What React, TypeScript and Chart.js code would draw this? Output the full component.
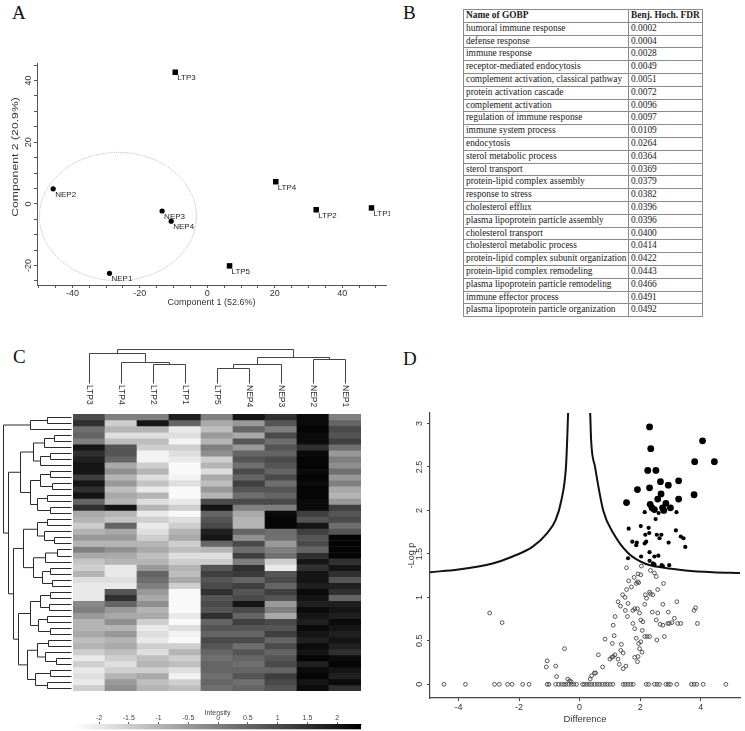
import React, { useEffect, useRef } from "react";
import { Chart, registerables } from "chart.js";

Chart.register(...registerables);
Chart.defaults.font.family = '"Liberation Sans", Arial, sans-serif';

// ---------------- Panel A : PCA ----------------
const ltpLabels = ["LTP1", "LTP2", "LTP3", "LTP4", "LTP5"];
const ltpComp1 = [48.7, 32.3, -9.5, 20.3, 6.6];
const ltpComp2 = [-1.3, -1.9, 42.7, 7.2, -20.1];
const nepLabels = ["NEP1", "NEP2", "NEP3", "NEP4"];
const nepComp1 = [-29.0, -45.7, -13.4, -10.7];
const nepComp2 = [-22.5, 4.9, -2.3, -5.6];
const ellipseCenter = [-26.5, -4.1];
const ellipseRadius = [23.3, 20.8];
const pcaXTicks = [-40, -20, 0, 20, 40];
const pcaYTicks = [-20, 0, 20, 40];
const pcaXMinor = [-50, -45, -40, -35, -30, -25, -20, -15, -10, -5, 0, 5, 10, 15, 20, 25, 30, 35, 40, 45, 50];
const pcaYMinor = [-25, -20, -15, -10, -5, 0, 5, 10, 15, 20, 25, 30, 35, 40, 45];

// ---------------- Panel B : GOBP table ----------------
const gobpNames = [
  "humoral immune response",
  "defense response",
  "immune response",
  "receptor-mediated endocytosis",
  "complement activation, classical pathway",
  "protein activation cascade",
  "complement activation",
  "regulation of immune response",
  "immune system process",
  "endocytosis",
  "sterol metabolic process",
  "sterol transport",
  "protein-lipid complex assembly",
  "response to stress",
  "cholesterol efflux",
  "plasma lipoprotein particle assembly",
  "cholesterol transport",
  "cholesterol metabolic process",
  "protein-lipid complex subunit organization",
  "protein-lipid complex remodeling",
  "plasma lipoprotein particle remodeling",
  "immune effector process",
  "plasma lipoprotein particle organization",
];
const gobpFdr = [
  "0.0002", "0.0004", "0.0028", "0.0049", "0.0051", "0.0072", "0.0096", "0.0097",
  "0.0109", "0.0264", "0.0364", "0.0369", "0.0379", "0.0382", "0.0396", "0.0396",
  "0.0400", "0.0414", "0.0422", "0.0443", "0.0466", "0.0491", "0.0492",
];

// ---------------- Panel C : heatmap ----------------
const heatColumns = ["LTP3", "LTP4", "LTP2", "LTP1", "LTP5", "NEP4", "NEP3", "NEP2", "NEP1"];
const ltp3Values = [1, 1.5, 0.3, 0.5, 0, 2, 1.5, 1.8, 2, 2, 1.2, 2, 1.5, 2, 0.5, 1.5, -0.8, -1, -1.5, -1, -0.5, -1, 0, -0.8, -1.3, -1.5, -1, -1.8, -2, -2, -2, -0.2, 0, -0.5, -1, -1, -0.8, -1.2, -1, -1.5, -2, -1.5, -2, -1.8, -2, -1.5];
const ltp4Values = [0, -1.5, -1, -1.8, -1.2, 0.8, 0.8, 0.5, -0.8, -0.3, -1, -0.5, -1.2, -0.8, -1, 2, -1, -1.3, 0.5, -0.8, -0.5, -1, -0.3, -0.8, -1, -2, -2, -1.8, -2, 0.8, 1.5, 0.5, -0.5, -0.8, -0.3, -1, -0.5, -1, -0.8, -1.2, -1.5, -1.8, -1.5, -1, -0.5, -0.3];
const ltp2Values = [0, 2, -1, -1.8, -1.2, -1.5, -2.2, -2.2, -1.5, -1, -1.8, -1.3, -2, -1, -1.8, -1, -2, -1.5, -2, -1.8, -1.5, -1, -0.8, -1.2, -1, -0.5, 0.5, 0.3, 0, -0.5, -0.8, -0.3, -1, -0.8, -1.5, -2, -1.8, -2, -1.5, -1.8, -1.2, -1, -1.5, -0.8, -1.2, -1];
const ltp1Values = [1.8, 0.5, -2, -1.8, -2.2, -1.5, -1.8, -2, -2.3, -2.3, -2.2, -1.8, -2.3, -2.3, -2, -1.5, -2.3, -1.8, -1.5, -1, -0.8, -1.5, -1.2, -1.8, -1.5, -1, -1.2, -0.8, -1.5, -2.3, -2.3, -2.3, -2.3, -2, -2.3, -1.8, -2.2, -2.3, -1.5, -1, -1.5, -1.2, -1.8, -2.2, -1.5, -1.2];
const ltp5Values = [0, -0.8, -1.2, -0.5, -1, 0, -0.3, -1.5, -1, -1.8, -0.8, -1.2, -0.5, -1, 1, 2, 0.5, 0.8, 1, 1.8, 2, 0.5, -1, -1.8, -1.5, 0.8, 1.2, 0.8, 1, 1.5, 0.8, 1, 0.8, 1.5, 0.5, 0.8, 0.5, 1, 0.8, 0.5, 0.3, 0.5, 0.5, 0.3, 0.5, 0.3];
const nep4Values = [2, -0.5, 0.5, -0.8, 0.8, -0.5, 0.5, 0.8, 0.3, 1, 0.5, 1.2, 0.8, 0.3, 1, 0, -0.8, -1, -1, 0.5, -0.3, 1, 0.3, 1.2, 0, 1.5, 1.3, 0.5, 1.2, 0.8, 1, 2, 1, 0.5, 1.2, 0.8, 0.5, 1, 0.3, 0.8, 0.5, 0.3, 0.5, 0.8, 0.3, 0.5];
const nep3Values = [1.5, 0.8, 0, 1, 0.3, 0.8, 0.5, 1, 0.8, 0.5, 1, 0.3, 0.8, 0.5, 1, 0, 2.2, 2.3, 2.3, 0.3, 0.3, -0.5, 0, 0.3, -1.5, -2, 0.8, 1, 0.5, 1.2, 0.8, -0.5, 0, -0.8, 1, 0.8, 1.2, 0.5, 1, 0.5, 0.8, 1, 0.5, 1.2, 1, 0.8];
const nep2Values = [2.2, 2.2, 2.3, 2.2, 2.2, 1.5, 2.2, 2.3, 2.3, 2.2, 2.3, 2.2, 2.3, 2.3, 2.2, 2.2, 1.2, 0.8, 2, 1.2, 0.8, 1, 0.5, 1.5, 2, 1.5, 2, 2, 1.8, 2.2, 2, 1.8, 2.2, 2, 1.8, 2.2, 2, 1.8, 2.2, 2, 2.3, 1.8, 2.2, 2.3, 2, 2.2];
const nep1Values = [0, 0.5, 1, 0.8, 1.2, 0.3, -0.5, 0, -0.3, 0.3, -0.5, 0, -0.8, -1, -0.5, 1.2, 0.8, 1, 0.3, 0.8, 2.3, 2.3, 2.3, 2.3, 1.5, 2, 1.5, 0.8, 1.8, 1.5, 0.5, 1.8, 2, 1.8, 2.2, 2, 1.8, 2, 1.8, 1.5, 2.2, 2.3, 2, 1.8, 2.2, 1.5];
const intensityMin = -2.42;
const intensityMax = 2.4;
const intensityTicks = [-2, -1.5, -1, -0.5, 0, 0.5, 1, 1.5, 2];
// dendrograms: [height, left, right], leaves are indices
const colTree: any = [1.0, [0.88, 0, [0.62, 1, [0.56, 2, 3]]], [0.76, [0.56, [0.46, 4, 5], 6], [0.71, 7, 8]]];
const rowTree: any = [1.0,
  [0.6, [0.35, 0, 1], 2],
  [0.92,
    [0.75,
      [0.55, [0.4, [0.25, 3, 4], 5], [0.45, [0.3, 6, 7], 8]],
      [0.6, [0.45, [0.3, 9, 10], [0.28, 11, 12]], [0.5, [0.35, 13, 14], [0.3, 15, 16]]]],
    [0.85,
      [0.7, [0.5, [0.35, 17, 18], [0.4, 19, [0.25, 20, 21]]], [0.55, [0.38, [0.2, 22, 23], 24], [0.42, [0.3, 25, 26], [0.28, 27, 28]]]],
      [0.78,
        [0.6, [0.45, [0.3, 29, 30], [0.32, 31, 32]], [0.48, [0.35, 33, 34], [0.3, 35, 36]]],
        [0.65, [0.5, [0.33, 37, 38], [0.38, 39, [0.22, 40, 41]]], [0.52, [0.3, 42, 43], [0.35, 44, 45]]]]]]];

// ---------------- Panel D : volcano ----------------
const bigX = [2.31, 2.35, 4.06, 3.80, 4.45, 2.25, 2.52, 2.67, 2.93, 3.27, 1.91, 2.31, 2.69, 3.27, 3.78, 1.55, 2.58, 2.33, 2.39, 2.47, 2.85, 2.74, 2.78, 3.00];
const bigY = [2.96, 2.71, 2.80, 2.56, 2.56, 2.46, 2.46, 2.33, 2.29, 2.34, 2.24, 2.26, 2.19, 2.13, 2.18, 2.09, 2.13, 2.07, 2.03, 2.01, 2.08, 2.03, 2.00, 2.03];
const smallX = [2.15, 2.61, 3.20, 2.51, 1.62, 2.02, 2.28, 3.18, 2.17, 2.30, 2.55, 2.70, 2.64, 3.34, 3.43, 1.74, 1.89, 2.15, 2.20, 2.94, 3.49, 1.87, 2.03, 2.31, 2.47, 2.60, 1.60, 2.31, 2.42, 2.47, 2.71, 2.96, 2.75];
const smallY = [1.98, 1.97, 1.98, 1.90, 1.79, 1.82, 1.80, 1.77, 1.72, 1.74, 1.72, 1.72, 1.68, 1.70, 1.68, 1.64, 1.63, 1.62, 1.64, 1.63, 1.58, 1.60, 1.47, 1.52, 1.47, 1.48, 1.45, 1.42, 1.39, 1.38, 1.37, 1.37, 1.36];
const openX = [-2.97, -2.56, -0.50, -1.07, -1.10, -0.79, -0.76, -0.39, -0.33, -0.28,
  0.35, 0.40, 0.49, 0.53, 0.62, 0.76, 0.84, 1.00, 1.06, 1.11,
  1.17, 1.27, 1.31, 1.08, 1.14, 1.11, 1.17, 1.38, 1.36, 1.44,
  1.44, 1.53, 1.27, 1.35, 1.42, 1.50, 1.51, 1.60, 1.58, 1.55,
  1.55, 1.62, 1.71, 1.76, 1.82, 1.91, 1.98, 2.02, 1.80, 1.87,
  1.91, 1.95, 1.93, 2.02, 2.04, 1.76, 1.82, 1.87, 1.95, 2.02,
  1.98, 1.93, 1.82, 1.91, 2.09, 2.07, 2.15, 2.23, 2.31, 2.06,
  2.15, 2.17, 2.21, 2.31, 2.34, 2.47, 2.53, 2.58, 2.40, 2.53,
  2.58, 2.34, 2.42, 2.55, 2.66, 2.75, 2.80, 2.75, 2.77, 2.91,
  2.93, 2.96, 3.05, 3.21, 3.13, 3.24, 3.34, 3.78, 3.83, 3.89];
const openY = [0.82, 0.71, 0.41, 0.27, 0.20, 0.21, 0.09, 0.06, 0.04, 0.03,
  0.06, 0.10, 0.13, 0.13, 0.34, 0.20, 0.52, 0.29, 0.31, 0.32,
  0.34, 0.29, 0.23, 0.47, 0.56, 0.68, 0.78, 0.46, 0.39, 0.36,
  0.18, 0.21, 0.95, 0.90, 1.03, 1.00, 0.85, 0.93, 0.78, 1.09,
  1.34, 1.19, 1.12, 0.85, 0.87, 0.87, 0.82, 0.74, 1.23, 1.16,
  1.18, 1.17, 1.27, 1.26, 1.36, 0.70, 0.64, 0.53, 0.47, 0.49,
  0.41, 0.32, 0.31, 0.26, 0.72, 0.62, 0.55, 0.55, 0.55, 0.37,
  0.92, 1.03, 0.99, 1.06, 1.31, 1.28, 1.24, 1.09, 0.83, 0.74,
  0.82, 1.04, 1.03, 0.51, 0.69, 0.68, 0.55, 0.92, 1.16, 0.70,
  0.83, 0.70, 0.71, 0.95, 0.76, 0.70, 0.70, 0.85, 0.88, 0.70];
const openZeroX = [-4.48, -3.77, -2.81, -2.65, -2.38, -2.23, -1.88, -1.67, -1.07, -1.01,
  -0.79, -0.69, -0.60, -0.52, -0.45, -0.36, -0.27, -0.19, -0.10, 0.10,
  0.16, 0.24, 0.32, 0.40, 0.49, 0.58, 0.66, 0.75, 0.84, 0.92,
  1.01, 1.10, 1.44, 1.51, 1.60, 1.69, 1.77, 2.20, 2.28, 2.47,
  2.56, 2.64, 2.85, 2.93, 3.00, 3.21, 3.69, 3.78, 3.87, 4.08, 4.83];
const curveLeftX = [-4.94, -4.0, -2.87, -2.21, -1.56, -1.07, -0.79, -0.60, -0.45, -0.41, -0.38];
const curveLeftY = [1.29, 1.32, 1.39, 1.47, 1.58, 1.74, 1.89, 2.12, 2.50, 2.81, 3.12];
const curveRightX = [0.35, 0.38, 0.51, 0.78, 1.11, 1.60, 2.15, 2.8, 3.5, 4.4, 5.3];
const curveRightY = [3.12, 2.81, 2.50, 2.0, 1.74, 1.51, 1.39, 1.34, 1.31, 1.29, 1.28];
const volcanoXTicks = [-4, -2, 0, 2, 4];
const volcanoYTicks = [0, 0.5, 1, 1.5, 2, 2.5, 3];

// ---------------- helpers ----------------
const FONT = '"Liberation Sans", Arial, sans-serif';
const pts = (xs: number[], ys: number[]) => xs.map((x, i) => ({ x, y: ys[i] }));

function intensityGray(v: number) {
  const t = Math.max(0, Math.min(1, (v - intensityMin) / (intensityMax - intensityMin)));
  const g = Math.round(255 * (1 - t));
  return `rgb(${g},${g},${g})`;
}

function drawTree(ctx: CanvasRenderingContext2D, node: any, leafPos: (i: number) => number,
  hPos: (h: number) => number, vertical: boolean): { p: number; h: number } {
  if (typeof node === "number") return { p: leafPos(node), h: 0 };
  const [h, l, r] = node;
  const a = drawTree(ctx, l, leafPos, hPos, vertical);
  const b = drawTree(ctx, r, leafPos, hPos, vertical);
  const line = (p1: number, h1: number, p2: number, h2: number) => {
    ctx.beginPath();
    if (vertical) { ctx.moveTo(p1, hPos(h1)); ctx.lineTo(p2, hPos(h2)); }
    else { ctx.moveTo(hPos(h1), p1); ctx.lineTo(hPos(h2), p2); }
    ctx.stroke();
  };
  line(a.p, a.h, a.p, h);
  line(b.p, b.h, b.p, h);
  line(a.p, h, b.p, h);
  return { p: (a.p + b.p) / 2, h };
}

const fixedTicks = (vals: number[]) => (s: any) => { s.ticks = vals.map((v) => ({ value: v })); };

// rotated y tick labels (read bottom-to-top), drawn at the y scale positions
function rotatedYLabels(id: string, values: number[], offsetFromAxis: number, size: number) {
  return {
    id,
    afterDraw(chart: any) {
      const { ctx, chartArea: { left }, scales: { y } } = chart;
      ctx.save();
      ctx.font = `${size}px ${FONT}`;
      ctx.fillStyle = "#333";
      ctx.textAlign = "center";
      ctx.textBaseline = "middle";
      values.forEach((v) => {
        ctx.save();
        ctx.translate(left - offsetFromAxis, y.getPixelForValue(v));
        ctx.rotate(-Math.PI / 2);
        ctx.fillText(String(v), 0, 0);
        ctx.restore();
      });
      ctx.restore();
    },
  };
}

// ---------------- Panel A component ----------------
const pcaPlugin = {
  id: "pcaExtras",
  beforeDatasetsDraw(chart: any) {
    const { ctx, scales: { x, y } } = chart;
    const cx = x.getPixelForValue(ellipseCenter[0]);
    const cy = y.getPixelForValue(ellipseCenter[1]);
    const rx = Math.abs(x.getPixelForValue(ellipseCenter[0] + ellipseRadius[0]) - cx);
    const ry = Math.abs(y.getPixelForValue(ellipseCenter[1] + ellipseRadius[1]) - cy);
    ctx.save();
    ctx.beginPath();
    ctx.ellipse(cx, cy, rx, ry, 0, 0, Math.PI * 2);
    ctx.strokeStyle = "#a0a0a0";
    ctx.lineWidth = 0.8;
    ctx.setLineDash([1, 1.2]);
    ctx.stroke();
    ctx.restore();
  },
  afterDatasetsDraw(chart: any) {
    const { ctx } = chart;
    ctx.save();
    ctx.font = `8px ${FONT}`;
    ctx.fillStyle = "#222";
    ctx.textAlign = "left";
    ctx.textBaseline = "middle";
    chart.data.datasets.forEach((ds: any, di: number) => {
      const meta = chart.getDatasetMeta(di);
      meta.data.forEach((el: any, i: number) => ctx.fillText(ds.names[i], el.x + 2, el.y + 6));
    });
    ctx.restore();
  },
  afterDraw(chart: any) {
    // y axis title, drawn stretched along its length like the reference
    const { ctx, chartArea: { top, bottom } } = chart;
    ctx.save();
    ctx.font = `9px ${FONT}`;
    ctx.fillStyle = "#333";
    ctx.textAlign = "center";
    ctx.textBaseline = "middle";
    ctx.translate(15, (top + bottom) / 2 - 17);
    ctx.rotate(-Math.PI / 2);
    ctx.scale(1.36, 1.05);
    ctx.fillText("Component 2 (20.9%)", 0, 0);
    ctx.restore();
  },
};

function PcaChart() {
  const ref = useRef<HTMLCanvasElement>(null);
  useEffect(() => {
    const chart = new Chart(ref.current as HTMLCanvasElement, {
      type: "scatter",
      data: {
        datasets: [
          { data: pts(ltpComp1, ltpComp2), names: ltpLabels, pointStyle: "rect", pointRadius: 3.9, backgroundColor: "#000", borderWidth: 0 } as any,
          { data: pts(nepComp1, nepComp2), names: nepLabels, pointStyle: "circle", pointRadius: 2.6, backgroundColor: "#000", borderWidth: 0 } as any,
        ],
      },
      options: {
        responsive: false,
        animation: false,
        layout: { padding: { left: 0, top: 63, right: 3, bottom: 0 } },
        plugins: { legend: { display: false }, tooltip: { enabled: false } },
        scales: {
          x: {
            type: "linear", min: -50.5, max: 53,
            afterBuildTicks: fixedTicks(pcaXMinor),
            afterFit: (s: any) => { s.height = 35; },
            ticks: { autoSkip: false, maxRotation: 0, padding: 0.5, color: "#333", font: { size: 9 },
              callback: (v: any) => (pcaXTicks.includes(v) ? String(v) : "") },
            grid: { drawOnChartArea: false, tickLength: 3, color: "#555" },
            border: { color: "#555" },
            title: { display: true, text: "Component 1 (52.6%)", color: "#333", font: { size: 9 }, padding: { top: 0, bottom: 11.6 } },
          },
          y: {
            type: "linear", min: -26.3, max: 45.7,
            afterBuildTicks: fixedTicks(pcaYMinor),
            afterFit: (s: any) => { s.width = 37; },
            ticks: { autoSkip: false, color: "rgba(0,0,0,0)", font: { size: 9 }, callback: () => "" },
            grid: { drawOnChartArea: false, tickLength: 3, color: "#555" },
            border: { color: "#555" },
          },
        },
      } as any,
      plugins: [pcaPlugin, rotatedYLabels("pcaYLabels", pcaYTicks, 8.5, 9)],
    });
    return () => chart.destroy();
  }, []);
  return <canvas ref={ref} width={390} height={320} style={{ position: "absolute", left: 0, top: 0, width: 390, height: 320 }} />;
}

// ---------------- Panel B component ----------------
function GoTable() {
  const cell: React.CSSProperties = {
    border: "1px solid #8a8a8a", padding: "0 0 0 2px", height: 11.8, lineHeight: "11.8px",
    whiteSpace: "nowrap", overflow: "hidden", verticalAlign: "middle",
  };
  return (
    <table style={{ position: "absolute", left: 463, top: 9, width: 239, borderCollapse: "collapse", tableLayout: "fixed",
      fontFamily: '"Liberation Serif", "Times New Roman", serif', fontSize: 9.4, color: "#1a1a1a" }}>
      <colgroup><col style={{ width: 165 }} /><col style={{ width: 74 }} /></colgroup>
      <thead>
        <tr><th style={{ ...cell, textAlign: "left" }}>Name of GOBP</th><th style={{ ...cell, textAlign: "left" }}>Benj. Hoch. FDR</th></tr>
      </thead>
      <tbody>
        {gobpNames.map((n, i) => (
          <tr key={n + i}><td style={cell}>{n}</td><td style={cell}>{gobpFdr[i]}</td></tr>
        ))}
      </tbody>
    </table>
  );
}

// ---------------- Panel C components ----------------
const heatPlugin = {
  id: "heatExtras",
  afterDraw(chart: any) {
    const { ctx, chartArea: { left, top }, scales: { x, y } } = chart;
    ctx.save();
    ctx.font = `8.5px ${FONT}`;
    ctx.fillStyle = "#333";
    ctx.textAlign = "left";
    ctx.textBaseline = "middle";
    heatColumns.forEach((c, i) => {
      ctx.save();
      ctx.translate(x.getPixelForValue(i), top - 29);
      ctx.rotate(Math.PI / 2);
      ctx.fillText(c, 0, 0);
      ctx.restore();
    });
    ctx.strokeStyle = "#444";
    ctx.lineWidth = 1;
    drawTree(ctx, colTree, (i) => Math.round(x.getPixelForValue(i)) + 0.5, (h) => Math.round(top - 30.7 - h * 34) + 0.5, true);
    ctx.strokeStyle = "#2a2a2a";
    drawTree(ctx, rowTree, (r) => Math.round(y.getPixelForValue(r + 0.5)) + 0.5, (h) => Math.round(left - 2.3 - h * 68) + 0.5, false);
    ctx.restore();
  },
};

function HeatmapChart() {
  const ref = useRef<HTMLCanvasElement>(null);
  useEffect(() => {
    const cols = [ltp3Values, ltp4Values, ltp2Values, ltp1Values, ltp5Values, nep4Values, nep3Values, nep2Values, nep1Values];
    const nRows = ltp3Values.length;
    const datasets = ltp3Values.map((_, r) => ({
      data: heatColumns.map(() => 1),
      backgroundColor: cols.map((c) => intensityGray(c[r])),
      borderWidth: 0,
      barPercentage: 1,
      categoryPercentage: 1,
    }));
    const chart = new Chart(ref.current as HTMLCanvasElement, {
      type: "bar",
      data: { labels: heatColumns, datasets },
      options: {
        responsive: false,
        animation: false,
        layout: { padding: { left: 73, right: 9, top: 74, bottom: 9 } },
        plugins: { legend: { display: false }, tooltip: { enabled: false } },
        scales: {
          x: { stacked: true, display: false },
          y: { stacked: true, display: false, reverse: true, min: 0, max: nRows },
        },
      } as any,
      plugins: [heatPlugin],
    });
    return () => chart.destroy();
  }, []);
  return <canvas ref={ref} width={370} height={360} style={{ position: "absolute", left: 0, top: 340, width: 370, height: 360 }} />;
}

const gradientPlugin = {
  id: "gradientBar",
  beforeDatasetsDraw(chart: any) {
    const { ctx, chartArea: { left, right, top, bottom }, scales: { x } } = chart;
    const g = ctx.createLinearGradient(x.getPixelForValue(intensityMin), 0, x.getPixelForValue(intensityMax), 0);
    g.addColorStop(0, intensityGray(intensityMin));
    g.addColorStop(0.5, intensityGray((intensityMin + intensityMax) / 2));
    g.addColorStop(1, intensityGray(intensityMax));
    ctx.save();
    ctx.fillStyle = g;
    ctx.fillRect(left, top, right - left, bottom - top);
    ctx.restore();
  },
};

function ColorbarChart() {
  const ref = useRef<HTMLCanvasElement>(null);
  useEffect(() => {
    const chart = new Chart(ref.current as HTMLCanvasElement, {
      type: "scatter",
      data: { datasets: [] },
      options: {
        responsive: false,
        animation: false,
        layout: { padding: { left: 74, right: 9, top: 0, bottom: 1.7 } },
        plugins: { legend: { display: false }, tooltip: { enabled: false } },
        scales: {
          x: {
            type: "linear", position: "top", min: intensityMin, max: intensityMax,
            afterBuildTicks: fixedTicks(intensityTicks),
            afterFit: (s: any) => { s.height = 24; },
            ticks: { autoSkip: false, maxRotation: 0, padding: 0, color: "#444", font: { size: 7 }, callback: (v: any) => String(v) },
            grid: { drawOnChartArea: false, tickLength: 2, color: "#666" },
            border: { color: "#999" },
            title: { display: true, text: "Intensity", color: "#444", font: { size: 7 }, padding: { top: 8.5, bottom: 0 } },
          },
          y: { display: false, min: 0, max: 1 },
        },
      } as any,
      plugins: [gradientPlugin],
    });
    return () => chart.destroy();
  }, []);
  return <canvas ref={ref} width={370} height={31} style={{ position: "absolute", left: 0, top: 700, width: 370, height: 31 }} />;
}

// ---------------- Panel D component ----------------
function VolcanoChart() {
  const ref = useRef<HTMLCanvasElement>(null);
  useEffect(() => {
    const chart = new Chart(ref.current as HTMLCanvasElement, {
      type: "scatter",
      data: {
        datasets: [
          { data: pts(bigX, bigY), pointRadius: 3.4, backgroundColor: "#000", borderWidth: 0 },
          { data: pts(smallX, smallY), pointRadius: 2.1, backgroundColor: "#000", borderWidth: 0 },
          { data: pts(openX, openY), pointRadius: 1.9, backgroundColor: "rgba(255,255,255,0)", borderColor: "#444", borderWidth: 0.9 },
          { data: openZeroX.map((x) => ({ x, y: 0 })), pointRadius: 1.9, backgroundColor: "rgba(255,255,255,0)", borderColor: "#444", borderWidth: 0.9 },
          { data: pts(curveLeftX, curveLeftY), showLine: true, pointRadius: 0, borderColor: "#111", borderWidth: 2, cubicInterpolationMode: "monotone" },
          { data: pts(curveRightX, curveRightY), showLine: true, pointRadius: 0, borderColor: "#111", borderWidth: 2, cubicInterpolationMode: "monotone" },
        ] as any,
      },
      options: {
        responsive: false,
        animation: false,
        layout: { padding: { left: 0, top: 83, right: 2, bottom: 0 } },
        plugins: { legend: { display: false }, tooltip: { enabled: false } },
        scales: {
          x: {
            type: "linear", min: -4.94, max: 5.3,
            afterBuildTicks: fixedTicks(volcanoXTicks),
            afterFit: (s: any) => { s.height = 33; },
            ticks: { autoSkip: false, maxRotation: 0, padding: 1.5, color: "#333", font: { size: 9 }, callback: (v: any) => String(v) },
            grid: { drawOnChartArea: false, tickLength: 3, color: "#444" },
            border: { color: "#444", width: 1.2 },
            title: { display: true, text: "Difference", color: "#333", font: { size: 9.5 }, padding: { top: 0, bottom: 6.3 } },
          },
          y: {
            type: "linear", min: -0.157, max: 3.12,
            afterBuildTicks: fixedTicks(volcanoYTicks),
            afterFit: (s: any) => { s.width = 50; },
            ticks: { autoSkip: false, color: "rgba(0,0,0,0)", font: { size: 9 }, callback: () => "" },
            grid: { drawOnChartArea: false, tickLength: 3, color: "#444" },
            border: { color: "#444", width: 1.2 },
            title: { display: true, text: "-Log p", color: "#333", font: { size: 9 }, padding: { top: 26.6, bottom: 0 } },
          },
        },
      } as any,
      plugins: [rotatedYLabels("volcanoYLabels", volcanoYTicks, 10, 9)],
    });
    return () => chart.destroy();
  }, []);
  return <canvas ref={ref} width={365} height={401} style={{ position: "absolute", left: 380, top: 330, width: 365, height: 401 }} />;
}

// ---------------- App ----------------
const letter = (left: number, top: number): React.CSSProperties => ({
  position: "absolute", left, top, fontFamily: '"Liberation Serif", "Times New Roman", serif',
  fontSize: 19, lineHeight: "19px", color: "#111",
});

export default function App() {
  return (
    <div style={{ position: "absolute", left: 0, top: 0, width: 745, height: 731, background: "#fff", overflow: "hidden" }}>
      <div style={letter(12, 3)}>A</div>
      <div style={letter(403, 3)}>B</div>
      <div style={letter(13, 347)}>C</div>
      <div style={letter(403, 349)}>D</div>
      <PcaChart />
      <GoTable />
      <HeatmapChart />
      <ColorbarChart />
      <VolcanoChart />
    </div>
  );
}
